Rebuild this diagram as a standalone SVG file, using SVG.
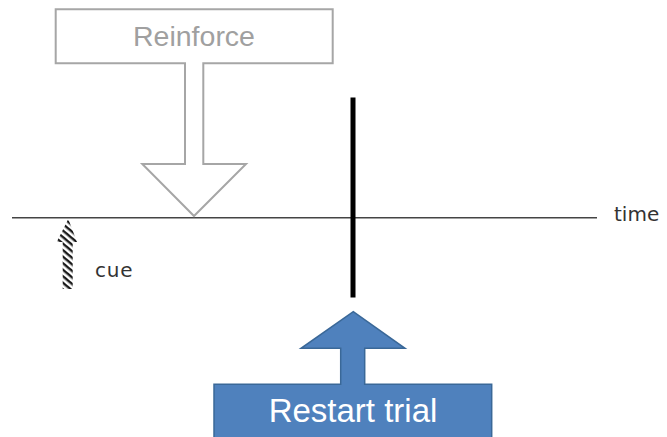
<svg xmlns="http://www.w3.org/2000/svg" width="667" height="437" viewBox="0 0 667 437">
  <defs>
    <pattern id="hatch" patternUnits="userSpaceOnUse" width="5" height="5" patternTransform="rotate(40)">
      <rect x="0" y="0" width="5" height="2.4" fill="#1a1a1a"/>
    </pattern>
    <style>
      .outline-arrow { fill: #ffffff; stroke: #a6a6a6; stroke-width: 2; }
      .solid-arrow { fill: #4f81bd; stroke: #3a6898; stroke-width: 1.5; }
      .label-gray { font-family: "Liberation Sans", Arial, sans-serif; font-size: 28.5px; fill: #a0a0a0; }
      .label-white { font-family: "Liberation Sans", Arial, sans-serif; font-size: 33px; fill: #ffffff; }
      .label-dark { font-family: "DejaVu Sans", "Liberation Sans", sans-serif; font-size: 20px; fill: #333333; }
    </style>
  </defs>

  <rect width="667" height="437" fill="#ffffff"/>

  <!-- connectors: time axis and event marker -->
  <g id="connectors">
    <line x1="12" y1="217.8" x2="597" y2="217.8" stroke="#444444" stroke-width="1.6"/>
    <rect x="350.5" y="97.5" width="5" height="200" fill="#000000"/>
  </g>

  <!-- reinforce callout pointing down to the axis -->
  <g id="reinforce">
    <path class="outline-arrow" d="M55.7 9.3 H332.7 V63.3 H203.3 V164 H246 L194 216 L142.3 164 H185 V63.3 H55.7 Z"/>
    <text class="label-gray" x="194" y="46" text-anchor="middle">Reinforce</text>
  </g>

  <!-- cue marker -->
  <g id="cue">
    <path d="M68.3 219 L77 242 H72.7 V289 H62.7 V242 H56.7 Z" fill="url(#hatch)"/>
    <text class="label-dark" x="95" y="277" font-size="22" letter-spacing="0.8">cue</text>
  </g>

  <!-- time label -->
  <g id="time">
    <text class="label-dark" x="614" y="221">time</text>
  </g>

  <!-- restart trial callout pointing up at the marker -->
  <g id="restart">
    <path class="solid-arrow" d="M214 384.3 H340.7 V348.3 H301 L353.3 311.7 L405 348.3 H364.7 V384.3 H491.7 V440 H214 Z"/>
    <text class="label-white" x="353" y="422" text-anchor="middle">Restart trial</text>
  </g>
</svg>
